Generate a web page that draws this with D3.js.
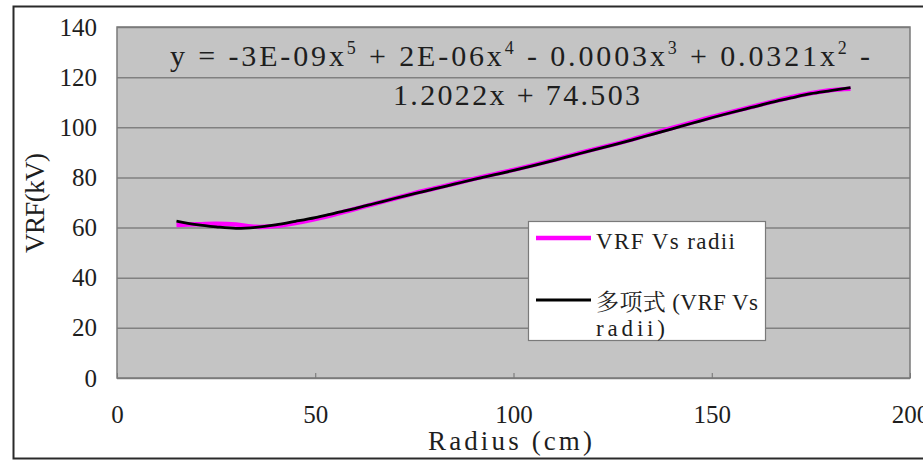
<!DOCTYPE html>
<html>
<head>
<meta charset="utf-8">
<script src="https://cdn.jsdelivr.net/npm/d3@7"></script>
<style>
  body { margin: 0; background: #fff; }
  text { font-family: "Liberation Serif", "Tinos", "Noto Serif", "DejaVu Serif", "Times New Roman", Times, "Noto Serif CJK SC", "Noto Sans CJK SC", serif; fill: #1e1e1e; }
</style>
</head>
<body>
<svg id="chart" width="923" height="460"></svg>
<script>
// radius (cm) sampled along the curve
let radius = [15, 20, 25, 30, 35, 40, 45, 50, 55, 60, 65, 70, 75, 80, 85, 90, 95, 100,
    105, 110, 115, 120, 125, 130, 135, 140, 145, 150, 155, 160, 165, 170, 175, 180, 185];
// measured VRF (kV), magenta
let vrf = [61.0, 61.3, 61.5, 61.2, 60.3, 60.6, 61.8, 63.4, 65.3, 67.4, 69.5, 71.6, 73.7, 75.6, 77.5, 79.4, 81.2, 83.0,
    84.9, 86.9, 89.0, 91.1, 93.1, 95.2, 97.5, 99.7, 101.9, 104.1, 106.1, 108.1, 110.1, 112.0, 113.6, 114.8, 115.4];
// polynomial trendline, black
let trend = [62.6, 61.2, 60.3, 59.7, 60.1, 61.1, 62.5, 64.0, 65.8, 67.6, 69.6, 71.6, 73.5, 75.4, 77.3, 79.2, 81.0, 82.8,
    84.7, 86.7, 88.8, 90.9, 92.9, 95.0, 97.2, 99.4, 101.6, 103.8, 105.9, 107.9, 109.9, 111.7, 113.4, 114.6, 115.8];

let xTicks = [0, 50, 100, 150, 200];
let yTicks = [0, 20, 40, 60, 80, 100, 120, 140];

let seriesNames = ['VRF Vs radii', '多项式 (VRF Vs', 'radii)'];

const svg = d3.select('#chart');
const serif = '"Liberation Serif", "Tinos", "Noto Serif", "DejaVu Serif", "Times New Roman", Times, serif';

const plotL = 117, plotR = 910, plotT = 27, plotB = 378;

const x = d3.scaleLinear().domain([0, 200]).range([plotL, plotR]);
const y = d3.scaleLinear().domain([0, 140]).range([plotB, plotT]);

// outer chart frame
svg.append('rect')
    .attr('x', 13.5).attr('y', 6.5)
    .attr('width', 930).attr('height', 452)
    .attr('fill', '#fff')
    .attr('stroke', '#2a2a2a')
    .attr('stroke-width', 2);

// plot area
svg.append('rect')
    .attr('x', plotL).attr('y', plotT)
    .attr('width', plotR - plotL).attr('height', plotB - plotT)
    .attr('fill', '#c4c4c4');

// y axis + gridlines
const yAxis = svg.append('g')
    .attr('transform', 'translate(' + plotL + ',0)')
    .call(d3.axisLeft(y).tickValues(yTicks).tickSize(-(plotR - plotL)).tickPadding(20));
yAxis.attr('font-family', null);
yAxis.select('.domain').remove();
yAxis.selectAll('line').attr('stroke', '#808080').attr('stroke-width', 1.5);
yAxis.selectAll('text').attr('font-size', 25).attr('fill', '#1e1e1e')
    .style('font-family', serif);

// x axis, ticks inside
const xAxis = svg.append('g')
    .attr('transform', 'translate(0,' + plotB + ')')
    .call(d3.axisBottom(x).tickValues(xTicks).tickSizeInner(-5).tickSizeOuter(0).tickPadding(27));
xAxis.attr('font-family', null);
xAxis.select('.domain').remove();
xAxis.selectAll('line').attr('stroke', '#707070');
xAxis.selectAll('text').attr('font-size', 25).attr('fill', '#1e1e1e')
    .style('font-family', serif);

// plot border
svg.append('rect')
    .attr('x', plotL).attr('y', plotT)
    .attr('width', plotR - plotL).attr('height', plotB - plotT)
    .attr('fill', 'none')
    .attr('stroke', '#7a7a7a')
    .attr('stroke-width', 1.5);

const line = d3.line()
    .x((d, i) => x(radius[i]))
    .y(d => y(d))
    .curve(d3.curveCatmullRom);

svg.append('path')
    .datum(vrf)
    .attr('d', line)
    .attr('fill', 'none')
    .attr('stroke', '#ff00ff')
    .attr('stroke-width', 4.5);

svg.append('path')
    .datum(trend)
    .attr('d', line)
    .attr('fill', 'none')
    .attr('stroke', '#000')
    .attr('stroke-width', 2.8);

// trendline equation
const eq = svg.append('text')
    .attr('x', 170).attr('y', 66)
    .attr('font-size', 30)
    .attr('textLength', 700)
    .attr('lengthAdjust', 'spacing');
const parts = [['y = -3E-09x', '5'], [' + 2E-06x', '4'], [' - 0.0003x', '3'], [' + 0.0321x', '2'], [' -', null]];
let raised = false;
parts.forEach(p => {
    eq.append('tspan').attr('dy', raised ? 12 : 0).text(p[0]);
    raised = false;
    if (p[1]) {
        eq.append('tspan').attr('font-size', 18).attr('dy', -12).text(p[1]);
        raised = true;
    }
});
svg.append('text')
    .attr('x', 393).attr('y', 105)
    .attr('font-size', 30)
    .attr('textLength', 247)
    .attr('lengthAdjust', 'spacing')
    .text('1.2022x + 74.503');

// legend
svg.append('rect')
    .attr('x', 528.5).attr('y', 221.5)
    .attr('width', 237).attr('height', 119)
    .attr('fill', '#fff')
    .attr('stroke', '#7a7a7a')
    .attr('stroke-width', 1.2);

svg.append('line')
    .attr('x1', 536).attr('x2', 591).attr('y1', 238).attr('y2', 238)
    .attr('stroke', '#ff00ff').attr('stroke-width', 4.5);
svg.append('line')
    .attr('x1', 536).attr('x2', 591).attr('y1', 300).attr('y2', 300)
    .attr('stroke', '#000').attr('stroke-width', 3);

svg.append('text')
    .attr('x', 596).attr('y', 249)
    .attr('font-size', 23)
    .attr('textLength', 139).attr('lengthAdjust', 'spacing')
    .text(seriesNames[0]);
svg.append('text')
    .attr('x', 596).attr('y', 310)
    .attr('font-size', 23)
    .attr('textLength', 162).attr('lengthAdjust', 'spacing')
    .text(seriesNames[1]);
svg.append('text')
    .attr('x', 596).attr('y', 336)
    .attr('font-size', 23)
    .attr('textLength', 69).attr('lengthAdjust', 'spacing')
    .text(seriesNames[2]);

// axis titles
svg.append('text')
    .attr('transform', 'translate(44,203) rotate(-90)')
    .attr('text-anchor', 'middle')
    .attr('font-size', 27)
    .attr('textLength', 100).attr('lengthAdjust', 'spacing')
    .text('VRF(kV)');

svg.append('text')
    .attr('x', 428).attr('y', 450)
    .attr('font-size', 27)
    .attr('textLength', 164).attr('lengthAdjust', 'spacing')
    .text('Radius (cm)');
</script>
</body>
</html>
